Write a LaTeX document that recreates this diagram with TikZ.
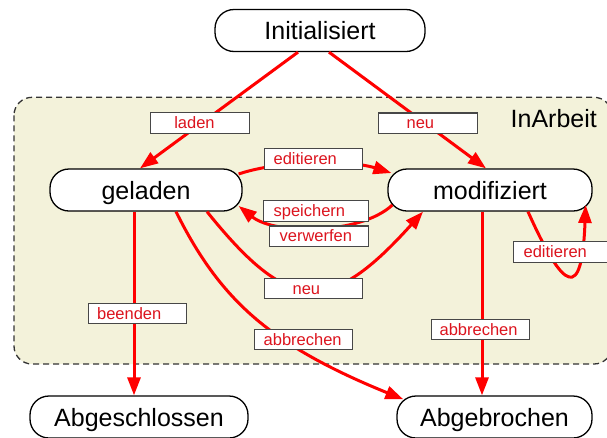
\documentclass[tikz,border=0pt]{standalone}
\usepackage{fontspec}
\setmainfont{Liberation Sans}
\usetikzlibrary{calc,arrows.meta}
\definecolor{bgfill}{HTML}{F3F2DA}
\definecolor{lnred}{HTML}{FF0000}
\definecolor{txred}{HTML}{DC141E}
\definecolor{boxgray}{HTML}{474747}
\newcommand{\padtxt}[2]{\hspace*{#1pt}#2}
\tikzset{
  state/.style={draw=black, line width=1.3pt, fill=white, rounded corners=19pt,
    minimum height=42pt, inner sep=0pt, text height=18pt, text depth=0pt,
    font=\fontsize{25}{28}\selectfont},
  edge/.style={draw=lnred, line width=3pt, -{Triangle[length=18pt,width=13pt]}},
  lbl/.style={draw=boxgray, line width=1.2pt, fill=white, text=txred, anchor=west,
    inner xsep=0pt, inner ysep=2.3pt, text height=13.5pt, text depth=2.5pt,
    align=left, font=\fontsize{16.5}{18}\selectfont},
  container/.style={draw=black!80, line width=1.3pt, dash pattern=on 6pt off 4pt,
    fill=bgfill, rounded corners=18pt}
}
\begin{document}
\begin{tikzpicture}[x=1pt,y=-1pt]
\useasboundingbox (0,0) rectangle (607,437);
% container
\path[container] (14,97.3) rectangle (612,364);
\node[anchor=east, font=\fontsize{25}{28}\selectfont, text height=18pt, text depth=0pt, inner sep=0pt] (inarbeit) at (597,118) {InArbeit};
% states
\node[state, minimum width=210pt] (init) at (320,30.5) {Initialisiert};
\node[state, minimum width=192pt] (gel) at (146,190) {geladen};
\node[state, minimum width=204pt] (mod) at (490,190) {modifiziert};
\node[state, minimum width=218pt] (abgs) at (139,417) {Abgeschlossen};
\node[state, minimum width=195pt] (abgb) at (494.5,417) {Abgebrochen};
% helper coordinates on node borders
\coordinate (abgbin) at ($(abgb.north west)+(7,4)$);
\coordinate (modloop) at ($(mod.east)+(-7,15)$);
% edges
\draw[edge] ($(init.south)+(-22,0)$) -- ($(gel.north)+(-6,0)$);
\draw[edge] ($(init.south)+(9,0)$) -- ($(mod.north)+(-4,0)$);
\draw[edge] ($(gel.east)+(-4,-16)$) .. controls (280,160) and (350,160) .. ($(mod.west)+(4,-17)$);
\draw[edge] ($(mod.west)+(5,15)$) .. controls (360,235) and (275,235) .. ($(gel.east)+(-4,16)$);
\draw[edge] ($(gel.south)+(61,0)$) .. controls (290,315) and (330,315) .. ($(mod.south)+(-67,0)$);
\draw[edge] ($(gel.south)+(-12,0)$) -- ($(abgs.north)+(-5,0)$);
\draw[edge] ($(mod.south)+(-8,0)$) -- ($(abgb.north)+(-12.5,0)$);
\draw[edge] ($(gel.south)+(30,0)$) .. controls (220,300) and (270,345) .. (abgbin);
\draw[edge] ($(mod.south)+(38,0)$) .. controls (564,292) and (582,302) .. (modloop);
% labels
\node[lbl, text width=99pt] (l1) at (149.7,123) {\padtxt{24}{laden}};
\node[lbl, text width=99pt] (l2) at (378,123.3) {\padtxt{28}{neu}};
\node[lbl, text width=98pt] (l3) at (264,159) {\padtxt{9}{editieren}};
\node[lbl, text width=105pt] (l4) at (263,211) {\padtxt{10}{speichern}};
\node[lbl, text width=99pt] (l5) at (269,236.3) {\padtxt{10}{verwerfen}};
\node[lbl, text width=98pt] (l6) at (264,288.5) {\padtxt{28}{neu}};
\node[lbl, text width=98pt] (l7) at (87.5,313.5) {\padtxt{9}{beenden}};
\node[lbl, text width=98.5pt] (l8) at (253.6,339.5) {\padtxt{9.5}{abbrechen}};
\node[lbl, text width=98pt] (l9) at (430.5,329.5) {\padtxt{8.5}{abbrechen}};
\node[lbl, text width=100pt] (l10) at (513,252) {\padtxt{10}{editieren}};
\end{tikzpicture}
\end{document}
